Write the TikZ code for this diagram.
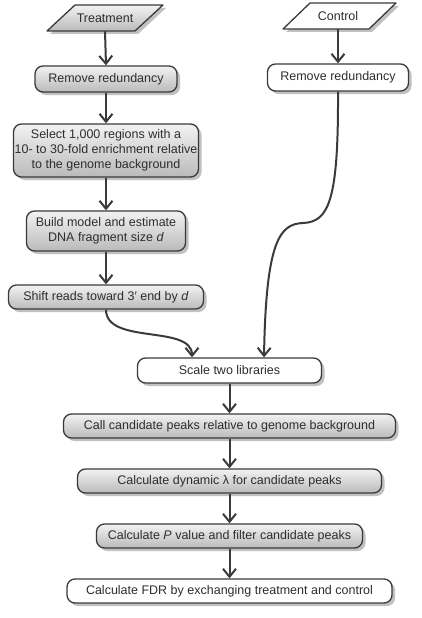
\documentclass[tikz,border=0pt]{standalone}
\usepackage{fontspec}
\setmainfont{Liberation Sans}
\usetikzlibrary{arrows.meta,shadows}
\definecolor{ink}{HTML}{3A3A3A}
\definecolor{txt}{HTML}{2E2E2E}
\tikzset{
  box/.style={draw=ink, line width=1.3pt, rounded corners=8pt, inner sep=0pt,
    align=center, text=txt, font=\fontsize{12.5}{15}\selectfont,
    drop shadow={shadow xshift=3pt, shadow yshift=-3pt, fill=black!35, opacity=0.7}},
  graybox/.style={box, top color=black!5, bottom color=black!27},
  whitebox/.style={box, fill=white},
  para/.style={draw=ink, line width=1.3pt, line join=round,
    drop shadow={shadow xshift=3pt, shadow yshift=-3pt, fill=black!35, opacity=0.7}},
  flow/.style={draw=ink, line width=2pt, -{Straight Barb[length=8pt,width=13pt,line width=2pt]}},
  lbl/.style={inner sep=0pt, text=txt, font=\fontsize{12.5}{15}\selectfont}
}
\begin{document}
\begin{tikzpicture}[x=1pt,y=-1pt]
\useasboundingbox (0,0) rectangle (422,618);
% input parallelograms
\path[para, top color=black!5, bottom color=black!27] (75,5) -- (163,5) -- (135,31) -- (47,31) -- cycle;
\node[lbl, minimum height=26pt] (treat) at (105,18) {Treatment};
\path[para, fill=white] (310,3) -- (396,3) -- (369,29) -- (283,29) -- cycle;
\node[lbl, minimum height=26pt] (ctrl) at (338,16) {Control};
% treatment branch
\node[graybox, minimum width=142pt, minimum height=26pt] (rem1) at (106,79) {Remove redundancy};
\node[graybox, minimum width=185pt, minimum height=53pt] (sel) at (106,150.5)
  {Select 1,000 regions with a\\10- to 30-fold enrichment relative\\to the genome background};
\node[graybox, minimum width=159pt, minimum height=40pt] (build) at (106,231)
  {Build model and estimate\\DNA fragment size \textit{d}};
\node[graybox, minimum width=195pt, minimum height=24pt] (shift) at (106,297)
  {Shift reads toward 3′ end by \textit{d}};
% control branch
\node[whitebox, minimum width=141pt, minimum height=27pt] (rem2) at (338,77.5) {Remove redundancy};
% common
\node[whitebox, minimum width=184pt, minimum height=25pt] (scale) at (229.5,370.5) {Scale two libraries};
\node[graybox, minimum width=332pt, minimum height=24pt] (call) at (229.5,426)
  {Call candidate peaks relative to genome background};
\node[graybox, minimum width=304pt, minimum height=24pt] (dyn) at (229.5,481)
  {Calculate dynamic λ for candidate peaks};
\node[graybox, minimum width=266pt, minimum height=24pt] (pval) at (229.5,536)
  {Calculate \textit{P} value and filter candidate peaks};
\node[whitebox, minimum width=325pt, minimum height=24pt] (fdr) at (229.5,591)
  {Calculate FDR by exchanging treatment and control};
% connectors
\draw[flow] (treat.south) -- (rem1.north);
\draw[flow] (rem1.south) -- (sel.north);
\draw[flow] (sel.south) -- (build.north);
\draw[flow] (build.south) -- (shift.north);
\draw[flow] (ctrl.south) -- (rem2.north);
\draw[flow] (shift.south) .. controls (106,345) and ([xshift=-37.5pt,yshift=33pt]scale.north) .. ([xshift=-37.5pt]scale.north);
\draw[flow] (rem2.south) .. controls (338.5,200) and (329,222) .. (303,223)
  .. controls (280,224) and (266,240) .. ([xshift=34.5pt]scale.north);
\draw[flow] (scale.south) -- (call.north);
\draw[flow] (call.south) -- (dyn.north);
\draw[flow] (dyn.south) -- (pval.north);
\draw[flow] (pval.south) -- (fdr.north);
\end{tikzpicture}
\end{document}
